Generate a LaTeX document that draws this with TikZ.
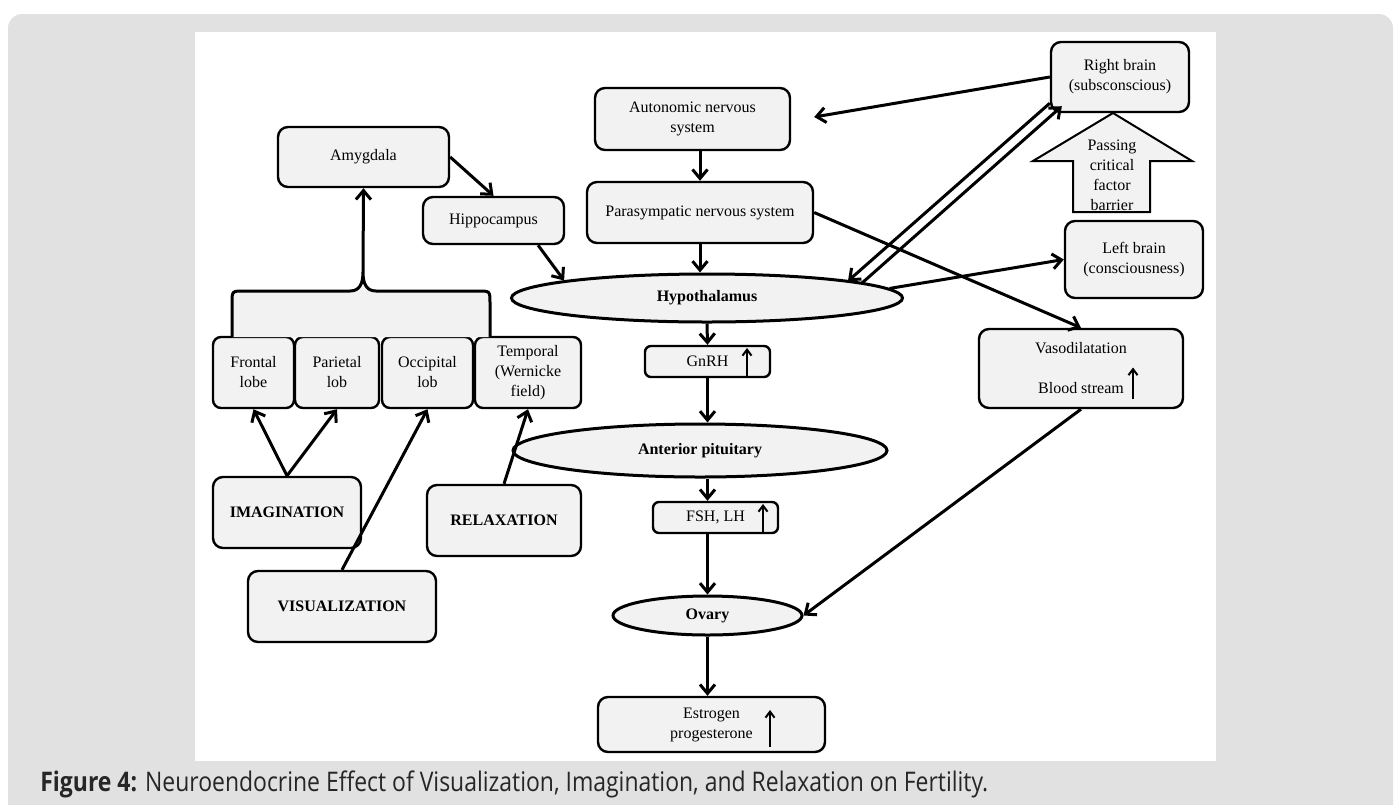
\documentclass[tikz,border=0pt]{standalone}
\usepackage{fontspec}
\setmainfont{Liberation Serif}
\newfontfamily\capfont[FakeStretch=0.85]{Open Sans}
\usetikzlibrary{arrows.meta,shapes.geometric,calc}
\definecolor{boxfill}{HTML}{F2F2F2}
\definecolor{pagegray}{HTML}{E1E1E1}
\definecolor{captext}{HTML}{262626}
\tikzset{every picture/.style={line width=0.75pt}}

\begin{document}
\begin{tikzpicture}[x=1pt,y=1pt,yscale=-1,xscale=1,
  box/.style={draw, fill=boxfill, rounded corners=10pt, line width=2.4pt, inner sep=0pt, align=center, font=\fontsize{16}{20}\selectfont},
  oval/.style={ellipse, draw, fill=boxfill, line width=3pt, inner sep=0pt, font=\fontsize{16}{20}\selectfont\bfseries},
  flow/.style={line width=3pt, -{Straight Barb[length=9pt,width=15pt]}},
  rise/.style={line width=2pt, -{Straight Barb[length=6pt,width=9pt]}}]
\useasboundingbox (0,0) rectangle (1394,804);

%Page and panel
\fill[pagegray, rounded corners=14pt] (8,14) rectangle (1393,830);
\fill[white] (195,32) rectangle (1216,761);

% Left column
\node[box, minimum width=171, minimum height=60] (amy) at (363.5,157) {Amygdala};
\node[box, minimum width=141, minimum height=47] (hip) at (493.5,220.5) {Hippocampus};
\node[box, rounded corners=8pt, minimum width=81, minimum height=71] (frontal) at (253.5,372.5) {Frontal\\lobe};
\node[box, rounded corners=8pt, minimum width=84, minimum height=71] (parietal) at (337,372.5) {Parietal\\lob};
\node[box, rounded corners=8pt, minimum width=91, minimum height=71] (occipital) at (427.5,372.5) {Occipital\\lob};
\node[box, rounded corners=8pt, minimum width=106, minimum height=71] (temporal) at (528,372.5) {Temporal\\(Wernicke\\field)};
\node[box, minimum width=148, minimum height=71, font=\fontsize{16}{20}\selectfont\bfseries] (img) at (287,512.5) {IMAGINATION};
\node[box, minimum width=154, minimum height=71, font=\fontsize{16}{20}\selectfont\bfseries] (rel) at (504,520.5) {RELAXATION};
\node[box, minimum width=188, minimum height=71, font=\fontsize{16}{20}\selectfont\bfseries] (vis) at (342,606.5) {VISUALIZATION};

%Bracket over the lobes
\fill[boxfill] (232,337) -- (232,303) .. controls (232,291) .. (244,291) -- (350,291) .. controls (360,291) and (363,283) .. (363,272) .. controls (363,283) and (366,291) .. (376,291) -- (478,291) .. controls (490,291) .. (490,303) -- (490,337) -- cycle;
\draw[line width=3pt] (232,337) -- (232,303) .. controls (232,291) .. (244,291) -- (350,291) .. controls (360,291) and (363,283) .. (363,272) .. controls (363,283) and (366,291) .. (376,291) -- (478,291) .. controls (490,291) .. (490,303) -- (490,337);
\coordinate (apex) at (363,272);

% Middle column
\node[box, minimum width=195, minimum height=62] (auto) at (692.5,119) {Autonomic nervous\\system};
\node[box, minimum width=226, minimum height=61] (para) at (700,212.5) {Parasympatic nervous system};
\node[oval, minimum width=391, minimum height=48] (hypo) at (707,298) {Hypothalamus};
\node[box, rounded corners=6pt, minimum width=125, minimum height=31] (gnrh) at (707.5,361.5) {GnRH};
\node[oval, minimum width=374, minimum height=53] (ap) at (700,450.5) {Anterior pituitary};
\node[box, rounded corners=6pt, minimum width=125, minimum height=31] (fsh) at (715.5,517.5) {FSH, LH};
\node[oval, minimum width=189, minimum height=39] (ovary) at (707.5,615.5) {Ovary};
\node[box, minimum width=227, minimum height=55] (est) at (711.5,724.5) {Estrogen\\progesterone};

% Right column
\node[box, minimum width=138, minimum height=70] (rb) at (1120,77) {Right brain\\(subsconscious)};
\node[box, minimum width=138, minimum height=77] (lb) at (1134,259.5) {Left brain\\(consciousness)};
\node[box, minimum width=204, minimum height=79] (vaso) at (1081,368.5) {Vasodilatation\\[20pt]Blood stream};

%Shape: Up arrow
\draw[fill=boxfill, line width=2pt] (1073,212) -- (1073,161) -- (1033,161) -- (1113,113) -- (1192,161) -- (1150,161) -- (1150,212) -- cycle;
\node[align=center, inner sep=0pt, font=\fontsize{16}{20}\selectfont] (barrier) at (1112,175) {Passing\\critical\\factor\\barrier};

% Small up arrows
\draw[rise] ($(gnrh.center)+(39.5,15.5)$) -- ($(gnrh.center)+(39.5,-13.5)$);
\draw[rise] ($(fsh.center)+(47.5,15.5)$) -- ($(fsh.center)+(47.5,-13.5)$);
\draw[rise] ($(est.center)+(58.5,22.5)$) -- ($(est.center)+(58.5,-14.5)$);
\draw[rise] ($(vaso.center)+(52,30.5)$) -- ($(vaso.center)+(52,-1)$);

% Connectors
\draw[flow] (apex) -- (amy.south);
\draw[flow] (amy.east) -- (hip.north);
\draw[flow] (hip.-29) -- (hypo.173);
\draw[flow] (img.north) -- (frontal.south);
\draw[flow] (img.north) -- (parietal.south);
\draw[flow] (vis.north) -- (occipital.south);
\draw[flow] (rel.north) -- (temporal.south);
\draw[flow] (auto.south -| para.north) -- (para.north);
\draw[flow] (para.south) -- (para.south |- hypo.north);
\draw[flow] (rb.west) -- ($(auto.east)+(23,-2)$);
\draw[flow] ($(rb.south west)+(0,-10)$) -- ($(hypo.center)+(141,-17)$);
\draw[flow] ($(hypo.center)+(155,-15)$) -- ($(rb.south west)+(12,-7)$);
\draw[flow] (para.east) -- (vaso.north);
\draw[flow] (hypo.3) -- (lb.west);
\draw[flow] (vaso.south) -- (ovary.east);
\draw[flow] (hypo.south) -- (gnrh.north);
\draw[flow] (gnrh.south) -- (gnrh.south |- ap.north);
\draw[flow] (ap.south -| gnrh.south) -- (fsh.north -| gnrh.south);
\draw[flow] (fsh.south -| gnrh.south) -- (gnrh.south |- ovary.north);
\draw[flow] (ovary.south) -- (ovary.south |- est.north);

% Caption
\node[anchor=base west, inner sep=0pt, text=captext, font=\capfont\fontsize{27}{31}\selectfont] (caption) at (40,791) {\textbf{Figure 4:} Neuroendocrine Effect of Visualization, Imagination, and Relaxation on Fertility.};

\end{tikzpicture}
\end{document}
